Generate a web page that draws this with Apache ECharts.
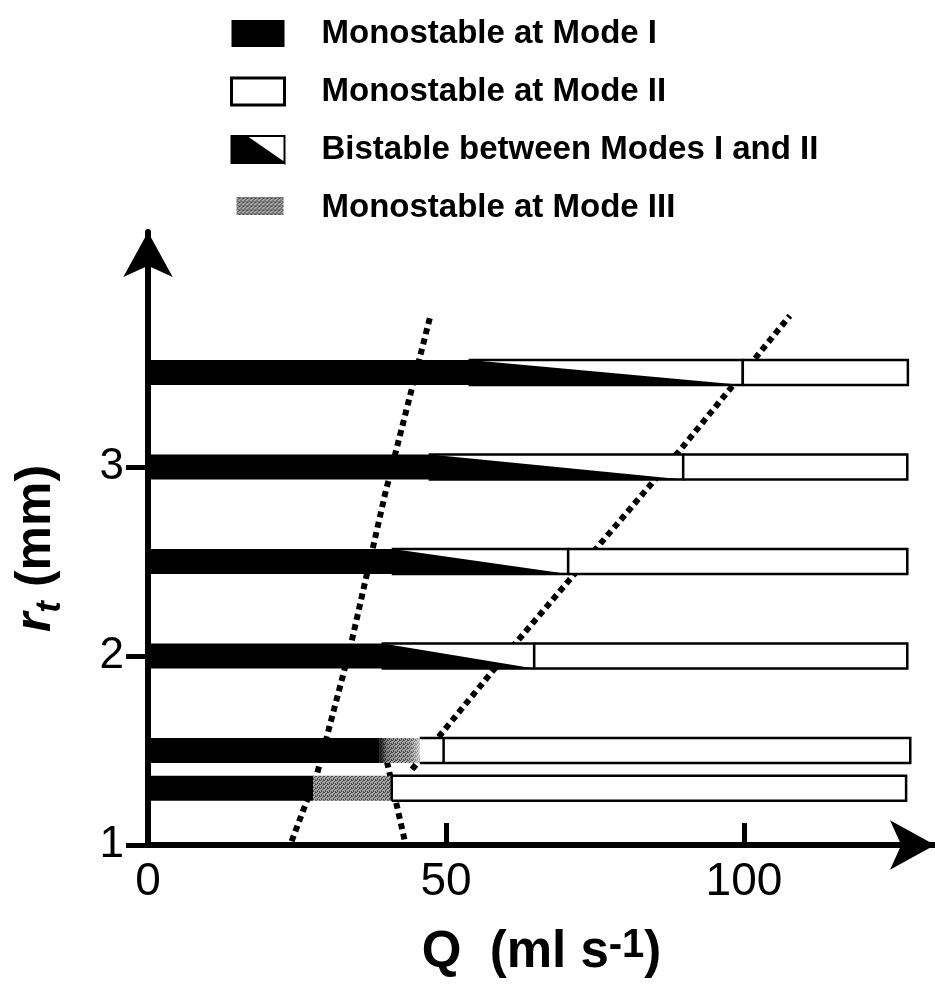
<!DOCTYPE html>
<html><head><meta charset="utf-8">
<script src="https://cdn.jsdelivr.net/npm/echarts@6/dist/echarts.min.js"></script>
<style>html,body{margin:0;padding:0;background:#fff}#c{width:935px;height:991px}</style>
</head><body><div id="c"></div>
<script>
// ---- data (Q in ml/s, r_t in mm) ----
// [r_t, Q start, Q end]
const modeI = [[1.3, 0, 27.7], [1.5, 0, 38.9], [2.0, 0, 39.4], [2.5, 0, 41.1], [3.0, 0, 47.3], [3.5, 0, 54.0]];
const modeIII = [[1.3, 27.7, 40.9], [1.5, 38.9, 45.6]];
const bistable = [[2.0, 39.4, 64.8], [2.5, 41.1, 70.5], [3.0, 47.3, 89.8], [3.5, 54.0, 99.8]];
// [r_t, white start, divider, end]
const modeII = [[1.3, 40.9, 40.9, 127.2], [1.5, 45.6, 49.6, 127.9], [2.0, 64.8, 64.8, 127.4], [2.5, 70.5, 70.5, 127.4], [3.0, 89.8, 89.8, 127.4], [3.5, 99.8, 99.8, 127.5]];
// dotted boundaries [Q, r_t]
const boundaryA = [[24.1, 1.02], [28.4, 1.38], [33.9, 2.04], [39.8, 2.86], [47.3, 3.79]];
const boundaryB = [[44.3, 1.40], [61.2, 2.05], [89.3, 3.09], [107.7, 3.80]];
const boundaryC = [[40.1, 1.44], [43.1, 1.02]];
const xLabels = [0, 50, 100];
const xTickVals = [50, 100];
const yLabels = [1, 2, 3];
const legendNames = ['Monostable at Mode I', 'Monostable at Mode II', 'Bistable between Modes I and II', 'Monostable at Mode III'];

const F = "'Liberation Sans', Arial, Helvetica, sans-serif";
const BAR_H = 25;

// stippled grey (halftone look)
function makeStipple() {
  const c = document.createElement('canvas');
  c.width = 4; c.height = 4;
  const ctx = c.getContext('2d');
  ctx.fillStyle = '#a8a8a8'; ctx.fillRect(0, 0, 4, 4);
  ctx.fillStyle = '#444444';
  [[0, 0], [2, 1], [1, 2], [3, 3], [3, 0], [1, 3]].forEach(p => ctx.fillRect(p[0], p[1], 1, 1));
  return {image: c, repeat: 'repeat'};
}
const GRAY = makeStipple();

function seg(api, x0, x1, rt) {
  const a = api.coord([x0, rt]), b = api.coord([x1, rt]);
  return {x0: a[0], x1: b[0], top: a[1] - BAR_H / 2, bot: a[1] + BAR_H / 2};
}

const chart = echarts.init(document.getElementById('c'));
const dotted = {color: '#000', width: 6, type: [6, 4.5], cap: 'butt'};

chart.setOption({
  animation: false,
  backgroundColor: '#fff',
  grid: {left: 148, right: 0, top: 232, bottom: 146, containLabel: false, outerBoundsMode: 'none'},
  legend: {
    orient: 'vertical', left: 230, top: 17, padding: 0, itemWidth: 53, itemHeight: 27, itemGap: 25,
    selectedMode: false,
    textStyle: {fontFamily: F, fontSize: 33, fontWeight: 'bold', color: '#000', padding: [0, 0, 0, 32]},
    data: [
      {name: legendNames[0], icon: 'rect', itemStyle: {color: '#000', borderWidth: 0}},
      {name: legendNames[1], icon: 'rect', itemStyle: {color: '#fff', borderColor: '#000', borderWidth: 3}},
      {name: legendNames[2], icon: 'path://M0,0L53,0L53,27L0,27Z M14,0L53,27L53,0Z', itemStyle: {color: '#000', borderColor: '#000', borderWidth: 2}},
      {name: legendNames[3], icon: 'path://M0,0M53,27M5,3L52,3L52,21L5,21Z', itemStyle: {color: GRAY, borderWidth: 0}}
    ]
  },
  xAxis: {
    type: 'value', min: 0, max: 132.05,
    splitLine: {show: false},
    axisLine: {show: true, symbol: ['none', 'arrow'], symbolSize: [37, 45], lineStyle: {color: '#000', width: 6}},
    axisTick: {show: true, inside: true, length: 22, customValues: xTickVals, lineStyle: {color: '#000', width: 5}},
    axisLabel: {customValues: xLabels, fontFamily: F, fontSize: 46, color: '#000', margin: 14},
    name: '{m|Q  (ml s}{sup|-1}{m|)}',
    nameLocation: 'middle', nameGap: 76, nameMoveOverlap: false,
    nameTextStyle: {
      fontFamily: F, fontSize: 51, fontWeight: 'bold', color: '#000',
      rich: {
        m: {fontFamily: F, fontSize: 51, fontWeight: 'bold', lineHeight: 64, color: '#000', verticalAlign: 'middle'},
        sup: {fontFamily: F, fontSize: 40, fontWeight: 'bold', lineHeight: 40, color: '#000', verticalAlign: 'top', padding: [5, 0, 0, 0]}
      }
    }
  },
  yAxis: {
    type: 'value', min: 1, max: 4.243,
    splitLine: {show: false},
    axisLine: {show: true, onZero: false, symbol: ['none', 'arrow'], symbolSize: [37, 45], lineStyle: {color: '#000', width: 6}},
    axisTick: {show: true, length: 22, customValues: yLabels, lineStyle: {color: '#000', width: 5}},
    axisLabel: {customValues: yLabels, fontFamily: F, fontSize: 44, color: '#000', margin: 24},
    name: '{r|r}{t|t}{m| (mm)}',
    nameLocation: 'middle', nameRotate: 90, nameGap: 80, nameMoveOverlap: false,
    nameTextStyle: {
      fontFamily: F, fontSize: 50, fontWeight: 'bold', color: '#000', padding: [0, 20, 0, 0],
      rich: {
        r: {fontFamily: F, fontSize: 50, fontWeight: 'bold', fontStyle: 'italic', lineHeight: 64, color: '#000', verticalAlign: 'middle'},
        t: {fontFamily: F, fontSize: 35, fontWeight: 'bold', fontStyle: 'italic', lineHeight: 35, color: '#000', verticalAlign: 'bottom'},
        m: {fontFamily: F, fontSize: 50, fontWeight: 'bold', lineHeight: 64, color: '#000', verticalAlign: 'middle'}
      }
    }
  },
  series: [
    {type: 'line', name: 'bA', data: boundaryA, showSymbol: false, lineStyle: dotted, z: 1, silent: true},
    {type: 'line', name: 'bB', data: boundaryB, showSymbol: false, lineStyle: dotted, z: 1, silent: true},
    {type: 'line', name: 'bC', data: boundaryC, showSymbol: false, lineStyle: dotted, z: 1, silent: true},
    {
      type: 'custom', name: legendNames[0], data: modeI, z: 3, itemStyle: {color: '#000'}, silent: true,
      renderItem(params, api) {
        const s = seg(api, api.value(1), api.value(2), api.value(0));
        return {type: 'rect', shape: {x: s.x0, y: s.top, width: s.x1 - s.x0, height: BAR_H}, style: {fill: '#000'}};
      }
    },
    {
      type: 'custom', name: legendNames[3], data: modeIII, z: 3, itemStyle: {color: '#8c8c8c'}, silent: true,
      renderItem(params, api) {
        const rt = api.value(0);
        const s = seg(api, api.value(1), api.value(2), rt);
        const m = modeII.find(r => r[0] === rt);
        const fades = m && m[1] < m[2];
        const rect = {x: s.x0, y: s.top, width: s.x1 - s.x0, height: BAR_H};
        if (!fades) return {type: 'rect', shape: rect, style: {fill: GRAY}};
        return {type: 'group', children: [
          {type: 'rect', shape: rect, style: {fill: GRAY}},
          {type: 'rect', shape: rect, style: {fill: new echarts.graphic.LinearGradient(0, 0, 1, 0, [
            {offset: 0, color: 'rgba(0,0,0,0.85)'}, {offset: 0.18, color: 'rgba(0,0,0,0.15)'},
            {offset: 0.45, color: 'rgba(0,0,0,0)'}, {offset: 0.8, color: 'rgba(255,255,255,0.1)'},
            {offset: 1, color: 'rgba(255,255,255,0.6)'}])}}
        ]};
      }
    },
    {
      type: 'custom', name: legendNames[2], data: bistable, z: 3, itemStyle: {color: '#000'}, silent: true,
      renderItem(params, api) {
        const s = seg(api, api.value(1), api.value(2), api.value(0));
        return {type: 'group', children: [
          {type: 'rect', shape: {x: s.x0, y: s.top, width: s.x1 - s.x0, height: BAR_H}, style: {fill: '#fff', stroke: '#000', lineWidth: 2.5}},
          {type: 'polygon', shape: {points: [[s.x0, s.top], [s.x1, s.bot], [s.x0, s.bot]]}, style: {fill: '#000'}}
        ]};
      }
    },
    {
      type: 'custom', name: legendNames[1], data: modeII, z: 3, itemStyle: {color: '#fff', borderColor: '#000'}, silent: true,
      renderItem(params, api) {
        const rt = api.value(0);
        const s = seg(api, api.value(1), api.value(3), rt);
        const d = api.coord([api.value(2), rt])[0];
        return {type: 'group', children: [
          {type: 'rect', shape: {x: s.x0, y: s.top, width: s.x1 - s.x0, height: BAR_H}, style: {fill: '#fff'}},
          {type: 'polyline', shape: {points: [[s.x0, s.top], [s.x1, s.top], [s.x1, s.bot], [s.x0, s.bot]]}, style: {fill: 'none', stroke: '#000', lineWidth: 2.5}},
          {type: 'line', shape: {x1: d, y1: s.top, x2: d, y2: s.bot}, style: {stroke: '#000', lineWidth: 2.5}}
        ]};
      }
    }
  ]
});
</script></body></html>
